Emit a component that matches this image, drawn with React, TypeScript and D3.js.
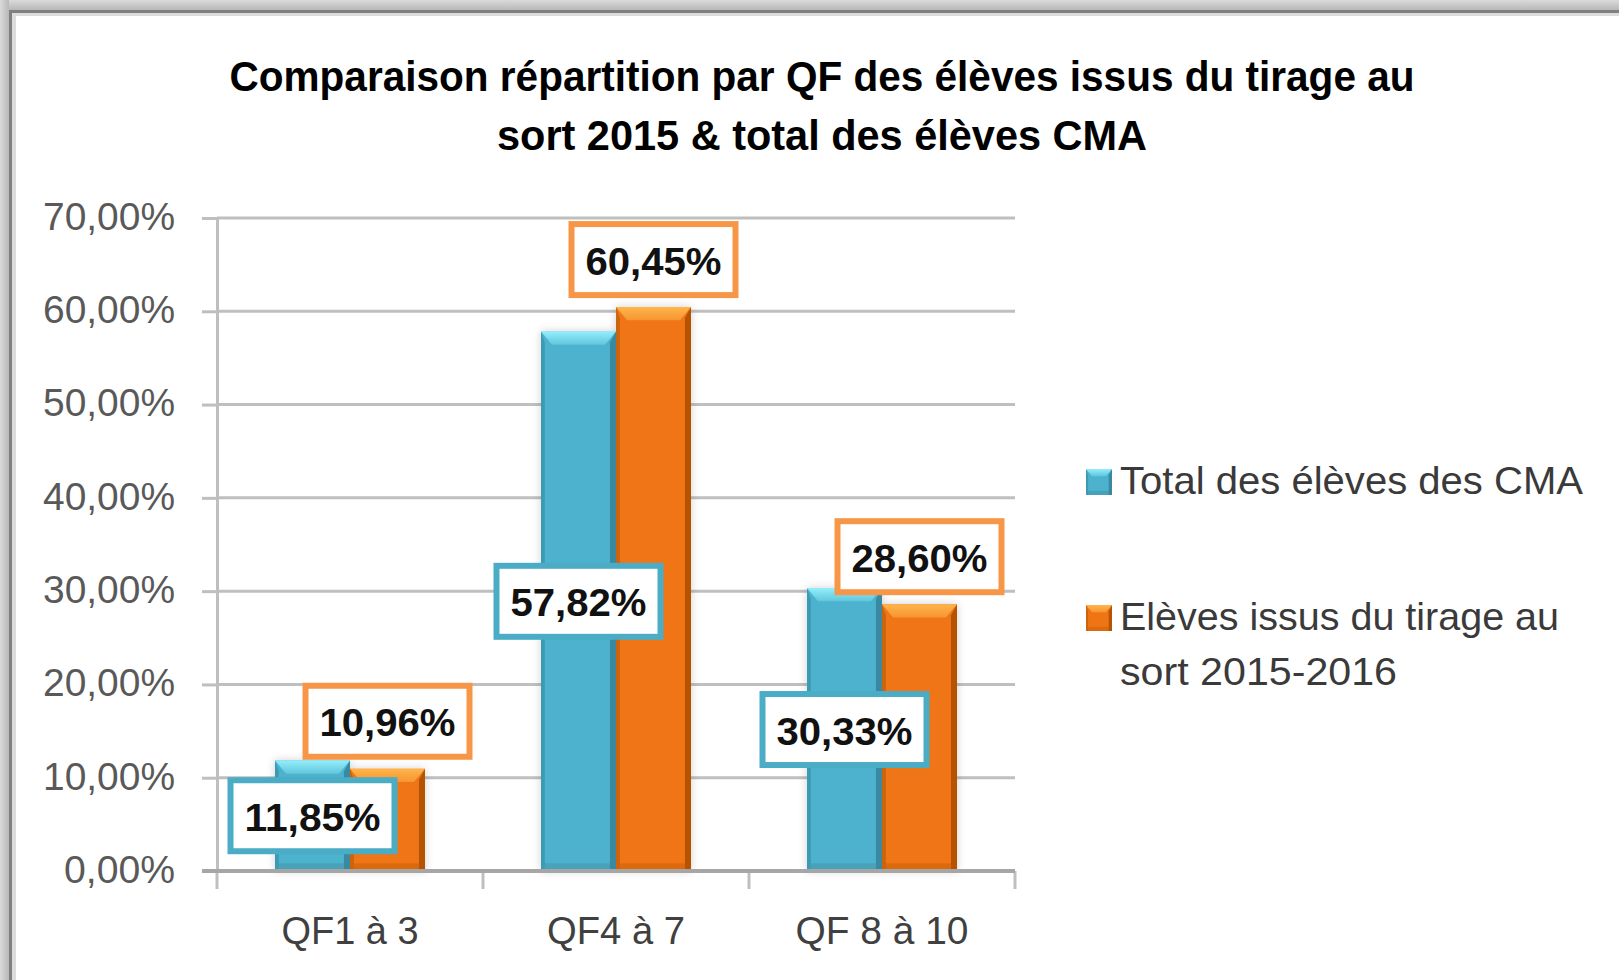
import React, { useEffect, useRef } from 'react';
import * as d3 from 'd3';

// chart data
const categories = ['QF1 à 3', 'QF4 à 7', 'QF 8 à 10'];
const totalCMA = [11.85, 57.82, 30.33];
const tirage = [10.96, 60.45, 28.6];
const seriesKeys = ['total', 'tirage'];
const yTicks = [0, 10, 20, 30, 40, 50, 60, 70];
const titleLines = ['Comparaison répartition par QF des élèves issus du tirage au', 'sort 2015 & total des élèves CMA'];
const legendLabels = [['Total des élèves des CMA'], ['Elèves issus du tirage au', 'sort 2015-2016']];

// layout
const W = 1619;
const H = 980;
const FONT = "'Liberation Sans Narrow', 'Liberation Sans', Arial, sans-serif";
const titleWidths = [1185, 650];
const legendWidths = [[463], [439, 277]];
const xLabelWidths = [137, 138, 173];

const palette = {
  total: { id: 'blue', body: '#4DB2CD', top: '#92EEFB', topDark: '#62C6DD', left: '#3E9AB3', right: '#3A88A1', bottom: '#3F8EA5', border: '#4BACC6' },
  tirage: { id: 'orange', body: '#EF7514', top: '#FFB54A', topDark: '#F69532', left: '#CC630D', right: '#B65305', bottom: '#C5600C', border: '#F79646' },
};

const fr = d3.formatLocale({ decimal: ',', thousands: '\u00a0', grouping: [3], currency: ['', ' €'] });
const pct = (v: number) => fr.format('.2f')(v) + '%';

const App = () => {
  const ref = useRef<SVGSVGElement>(null);

  useEffect(() => {
    const svg = d3.select(ref.current);
    svg.selectAll('*').remove();
    const defs = svg.append('defs');

    const linGrad = (id: string, c0: string, c1: string, horizontal = false) => {
      const g = defs.append('linearGradient').attr('id', id)
        .attr('x1', 0).attr('y1', 0).attr('x2', horizontal ? 1 : 0).attr('y2', horizontal ? 0 : 1);
      g.append('stop').attr('offset', '0%').attr('stop-color', c0);
      g.append('stop').attr('offset', '100%').attr('stop-color', c1);
    };
    linGrad('shadowTop', '#DADADA', '#B8B8B8');
    linGrad('shadowLeft', '#DADADA', '#B8B8B8', true);
    Object.values(palette).forEach((c) => linGrad(`${c.id}-top`, c.top, c.topDark));

    const f = defs.append('filter').attr('id', 'barShadow').attr('x', '-20%').attr('y', '-20%').attr('width', '140%').attr('height', '140%');
    f.append('feDropShadow').attr('dx', 0).attr('dy', 0).attr('stdDeviation', 4)
      .attr('flood-color', '#000').attr('flood-opacity', 0.18);

    // frame
    svg.append('rect').attr('width', W).attr('height', H).attr('fill', '#fff');
    svg.append('rect').attr('width', W).attr('height', 10).attr('fill', 'url(#shadowTop)');
    svg.append('rect').attr('width', 9).attr('height', H).attr('fill', 'url(#shadowLeft)');
    svg.append('rect').attr('x', 9).attr('y', 10).attr('width', W).attr('height', 3).attr('fill', '#808080');
    svg.append('rect').attr('x', 9).attr('y', 10).attr('width', 3).attr('height', H).attr('fill', '#808080');
    svg.append('rect').attr('x', 12).attr('y', 13).attr('width', W).attr('height', 3).attr('fill', '#DCDCDC');
    svg.append('rect').attr('x', 12).attr('y', 13).attr('width', 4).attr('height', H).attr('fill', '#DCDCDC');

    // title
    svg.append('g').selectAll('text').data(titleLines).enter().append('text')
      .attr('x', 822).attr('y', (d, i) => 91 + i * 59)
      .attr('text-anchor', 'middle')
      .attr('font-family', FONT).attr('font-weight', 'bold').attr('font-size', 43).attr('fill', '#000')
      .attr('textLength', (d, i) => titleWidths[i]).attr('lengthAdjust', 'spacingAndGlyphs')
      .text((d) => d);

    // scales
    const y = d3.scaleLinear().domain([0, 70]).range([871, 218]);
    const x0 = d3.scaleBand().domain(categories).range([217, 1015]).paddingInner(0).paddingOuter(0);
    const x1 = d3.scaleBand().domain(seriesKeys).range([0, x0.bandwidth()]).paddingInner(0).paddingOuter(0.773);

    // gridlines
    svg.append('g').selectAll('line').data(yTicks.filter((t) => t > 0)).enter().append('line')
      .attr('x1', 217).attr('x2', 1015).attr('y1', (d) => y(d)).attr('y2', (d) => y(d))
      .attr('stroke', '#BFBFBF').attr('stroke-width', 3);

    // y axis
    const yAxis = svg.append('g').attr('transform', 'translate(217,0)')
      .call(d3.axisLeft(y).tickValues(yTicks).tickSize(15).tickSizeOuter(0).tickPadding(27).tickFormat((d) => pct(d as number)));
    yAxis.select('.domain').attr('stroke', '#BFBFBF').attr('stroke-width', 3);
    yAxis.selectAll('.tick line').attr('stroke', '#BFBFBF').attr('stroke-width', 3);
    yAxis.selectAll('.tick text').attr('font-family', FONT).attr('font-size', 38).attr('fill', '#595959').attr('dy', '0.3em')
      .attr('textLength', (d: any) => (d < 10 ? 111 : 132)).attr('lengthAdjust', 'spacingAndGlyphs');

    // x axis: boundary ticks + labels
    const bounds = [...categories.map((c) => x0(c) as number), x0.range()[1]];
    svg.append('g').selectAll('line').data(bounds).enter().append('line')
      .attr('x1', (d) => d).attr('x2', (d) => d).attr('y1', 871).attr('y2', 889)
      .attr('stroke', '#BFBFBF').attr('stroke-width', 3);
    svg.append('g').selectAll('text').data(categories).enter().append('text')
      .attr('x', (d) => (x0(d) as number) + x0.bandwidth() / 2).attr('y', 944)
      .attr('text-anchor', 'middle')
      .attr('font-family', FONT).attr('font-size', 38).attr('fill', '#404040')
      .attr('textLength', (d, i) => xLabelWidths[i]).attr('lengthAdjust', 'spacingAndGlyphs')
      .text((d) => d);

    // bars
    const drawBar = (g: any, x: number, yTop: number, w: number, yBot: number, c: any, b: number) => {
      g.append('rect').attr('x', x).attr('y', yTop).attr('width', w).attr('height', yBot - yTop).attr('fill', c.body);
      g.append('rect').attr('x', x).attr('y', yBot - b * 0.7).attr('width', w).attr('height', b * 0.7).attr('fill', c.bottom).attr('opacity', 0.45);
      g.append('polygon').attr('points', [[x, yTop], [x + b * 0.35, yTop + b], [x + b * 0.35, yBot], [x, yBot]].join(' ')).attr('fill', c.left);
      g.append('polygon').attr('points', [[x + w, yTop], [x + w - b * 0.55, yTop + b], [x + w - b * 0.55, yBot], [x + w, yBot]].join(' ')).attr('fill', c.right);
      g.append('polygon').attr('points', [[x, yTop], [x + w, yTop], [x + w - b, yTop + b * 1.2], [x + b, yTop + b * 1.2]].join(' ')).attr('fill', `url(#${c.id}-top)`);
    };

    const series = [
      { key: 'total', values: totalCMA },
      { key: 'tirage', values: tirage },
    ];
    const barsG = svg.append('g').attr('filter', 'url(#barShadow)');
    series.forEach((s) => {
      s.values.forEach((v, i) => {
        const bx = (x0(categories[i]) as number) + (x1(s.key) as number);
        const g = barsG.append('g');
        drawBar(g, bx, y(v), x1.bandwidth(), y(0), palette[s.key as 'total' | 'tirage'], 11);
      });
    });

    // zero axis line over bars
    svg.append('line').attr('x1', 202).attr('x2', 1015).attr('y1', y(0)).attr('y2', y(0))
      .attr('stroke', '#A6A6A6').attr('stroke-width', 4);

    // data labels
    const boxW = 170;
    const boxH = 77;
    const stroke = 6;
    const labelsG = svg.append('g');
    series.forEach((s) => {
      const c = palette[s.key as 'total' | 'tirage'];
      s.values.forEach((v, i) => {
        const cx = (x0(categories[i]) as number) + (x1(s.key) as number) + x1.bandwidth() / 2;
        const cy = s.key === 'total' ? (y(v) + y(0)) / 2 : y(v) - 9 - boxH / 2;
        labelsG.append('rect')
          .attr('x', cx - boxW / 2 + stroke / 2).attr('y', cy - boxH / 2 + stroke / 2)
          .attr('width', boxW - stroke).attr('height', boxH - stroke)
          .attr('fill', '#fff').attr('stroke', c.border).attr('stroke-width', stroke);
        labelsG.append('text')
          .attr('x', cx).attr('y', cy + 15)
          .attr('text-anchor', 'middle')
          .attr('font-family', FONT).attr('font-weight', 'bold').attr('font-size', 39).attr('fill', '#111')
          .attr('textLength', 136).attr('lengthAdjust', 'spacingAndGlyphs')
          .text(pct(v));
      });
    });

    // legend
    const legendY = [469, 605];
    const legendG = svg.append('g');
    series.forEach((s, i) => {
      const c = palette[s.key as 'total' | 'tirage'];
      const g = legendG.append('g');
      drawBar(g, 1086, legendY[i], 26, legendY[i] + 26, c, 6);
      legendLabels[i].forEach((line, j) => {
        legendG.append('text')
          .attr('x', 1120).attr('y', legendY[i] + 25 + j * 55)
          .attr('font-family', FONT).attr('font-size', 39).attr('fill', '#3A3A3A')
          .attr('textLength', legendWidths[i][j]).attr('lengthAdjust', 'spacingAndGlyphs')
          .text(line);
      });
    });
  }, []);

  return (
    <div style={{ position: 'absolute', left: 0, top: 0 }}>
      <svg ref={ref} width={W} height={H} style={{ display: 'block' }} />
    </div>
  );
};

export default App;
